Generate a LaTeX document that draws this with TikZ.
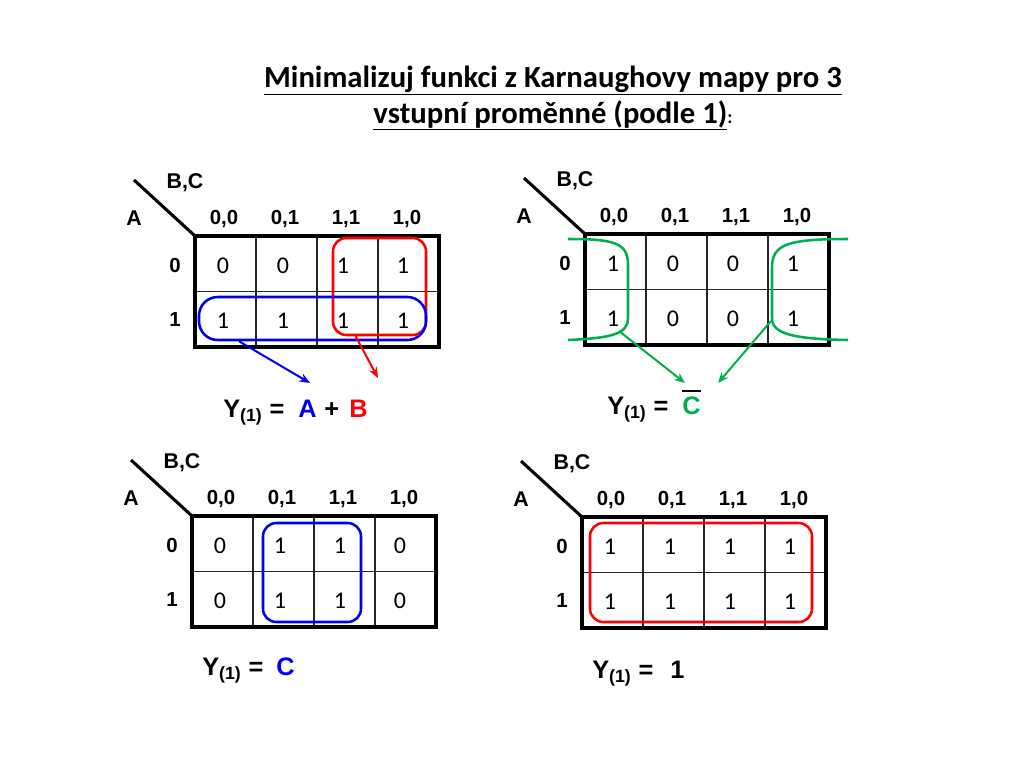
\documentclass[tikz,border=0pt]{standalone}
\usepackage{fontspec}
\setmainfont{Carlito}
\newfontfamily\arialf{Liberation Sans}
\usetikzlibrary{arrows.meta,calc,fit}
\definecolor{kred}{HTML}{FF0000}
\definecolor{kblue}{HTML}{0000F0}
\definecolor{kgreen}{HTML}{00B050}
\tikzset{
  frame/.style={line width=2.6pt},
  cellline/.style={line width=0.9pt, black!85},
  diagline/.style={line width=2.3pt},
  varlab/.style={font=\arialf\bfseries\fontsize{16}{18}\selectfont, inner sep=0pt, anchor=base},
  hdr/.style={font=\arialf\bfseries\fontsize{15.3}{17}\selectfont, inner sep=0pt, anchor=base},
  val/.style={font=\fontsize{18}{20}\selectfont, inner sep=0pt},
  grp/.style={draw=#1, line width=1.9pt, rounded corners=10pt, inner sep=0pt, minimum size=0pt},
  conn/.style={draw=#1, line width=1.5pt, -{Stealth[length=8pt,width=6.5pt]}},
  bracket/.style={draw=kgreen, line width=1.9pt},
  formula/.style={font=\arialf\bfseries\fontsize{19}{22}\selectfont, inner sep=0pt, anchor=base west},
  titlef/.style={font=\bfseries\fontsize{23}{27}\selectfont, inner sep=0pt, anchor=base}
}
% #1 prefix, #2 left, #3 top, #4 row 0 values, #5 row 1 values
\newcommand\kmap[5]{%
  \coordinate (#1nw) at (#2,#3);
  \coordinate (#1se) at (#2+244,#3+111);
  \foreach \k in {1,2,3} \draw[cellline] (#2+61*\k,#3) -- (#2+61*\k,#3+111);
  \draw[cellline] (#2,#3+55.5) -- (#2+244,#3+55.5);
  \draw[frame] (#1nw) rectangle (#1se);
  \coordinate (#1d) at (#2-61,#3-56);
  \draw[diagline] (#1d) -- (#1nw);
  \node[varlab] (#1bc) at (#2-10,#3-47.5) {B,C};
  \node[varlab] (#1av) at (#2-61,#3-11) {A};
  \foreach \h [count=\i] in {{0,0},{0,1},{1,1},{1,0}}
    \node[hdr] (#1h\i) at (#2+61*\i-32,#3-12) {\h};
  \node[hdr] (#1r0) at (#2-20,#3+36) {0};
  \node[hdr] (#1r1) at (#2-20,#3+90) {1};
  \foreach \v [count=\i] in {#4}
    \node[val] (#1a\i) at (#2+60*\i-32,#3+30) {\v};
  \foreach \v [count=\i] in {#5}
    \node[val] (#1b\i) at (#2+60*\i-32,#3+84.5) {\v};
}
\begin{document}
\begin{tikzpicture}[x=0.75pt,y=-0.75pt]
\fill[white] (0,0) rectangle (1024,768);
\useasboundingbox (0,0) rectangle (1024,768);

% title
\node[titlef] (t1) at (553,87) {\underline{Minimalizuj funkci z Karnaughovy mapy pro 3}};
\node[titlef] (t2) at (553,123) {\underline{vstupní proměnné (podle 1)}{\fontsize{14}{16}\selectfont:}};

% maps
\kmap{tl}{195}{236}{0,0,1,1}{1,1,1,1}
\kmap{tr}{585}{234}{1,0,0,1}{1,0,0,1}
\kmap{bl}{192}{516}{0,1,1,0}{0,1,1,0}
\kmap{br}{582}{517}{1,1,1,1}{1,1,1,1}

% top-left groups
\coordinate (tlr1) at (333,238); \coordinate (tlr2) at (426,335);
\node[grp=kred, fit=(tlr1)(tlr2)] (tlred) {};
\coordinate (tlb1) at (199,297); \coordinate (tlb2) at (426,340);
\node[grp=kblue, rounded corners=14pt, fit=(tlb1)(tlb2)] (tlblue) {};

% top-left formula
\node[formula] (tlY) at (223,417) {Y\textsubscript{(1)} =};
\node[formula, text=kblue] (tlA) at (298,417) {A};
\node[formula] (tlP) at (324,417) {+};
\node[formula, text=kred] (tlB) at (349,417) {B};
\coordinate (tlAend) at (310,383);
\coordinate (tlBend) at (378,378);
\draw[conn=kblue] ($(tlblue.south west)!0.18!(tlblue.south east)$) -- (tlAend);
\draw[conn=kred] ($(tlred.south west)!0.25!(tlred.south east)$) -- (tlBend);

% top-right brackets
\draw[bracket] (568,239) .. controls (615,239) and (628,243) .. (628,265) -- (628,318)
  .. controls (628,334) and (612,338) .. (568,340);
\draw[bracket] (848,239) .. controls (785,239) and (772,245) .. (772,268) -- (772,318)
  .. controls (772,333) and (790,339) .. (848,340);
\coordinate (trgl) at (619,331);
\coordinate (trgr) at (771,321);
\node[formula] (trY) at (607,414) {Y\textsubscript{(1)} =};
\node[formula, text=kgreen] (trC) at (682,414) {C};
\draw[line width=1.6pt] ($(trC.north west)+(0,-5)$) -- ($(trC.north east)+(0,-5)$);
\coordinate (trCl) at (685,383);
\coordinate (trCr) at (718,383);
\draw[conn=kgreen] (trgl) -- (trCl);
\draw[conn=kgreen] (trgr) -- (trCr);

% bottom-left
\coordinate (blg1) at (263,523); \coordinate (blg2) at (361,622);
\node[grp=kblue, fit=(blg1)(blg2)] (blblue) {};
\node[formula] (blY) at (202,675) {Y\textsubscript{(1)} =};
\node[formula, text=kblue] (blC) at (276,675) {C};

% bottom-right
\coordinate (brg1) at (590,523); \coordinate (brg2) at (812,622);
\node[grp=kred, fit=(brg1)(brg2)] (brred) {};
\node[formula] (brY) at (592,678) {Y\textsubscript{(1)} =};
\node[formula] (brOne) at (670,678) {1};
\end{tikzpicture}
\end{document}
